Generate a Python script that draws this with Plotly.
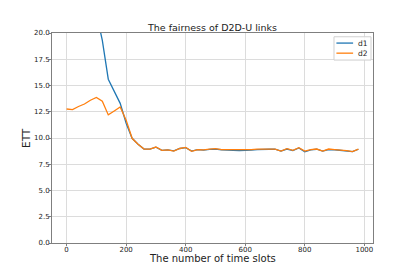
import plotly.graph_objects as go

time_slots = list(range(0, 1000, 20))

d1 = [35.0, 32.0, 29.5, 27.0, 24.5, 21.8, 19.3, 15.6, 14.4, 13.3, 11.4, 9.97, 9.4, 8.95, 8.95, 9.12,
      8.83, 8.86, 8.78, 9.0, 9.08, 8.75, 8.9, 8.84, 8.92, 8.95, 8.88, 8.88, 8.82, 8.8,
      8.8, 8.85, 8.9, 8.95, 8.93, 8.93, 8.76, 8.95, 8.8, 9.05, 8.68, 8.86, 8.93, 8.76,
      8.9, 8.88, 8.84, 8.78, 8.7, 8.93]

d2 = [12.76, 12.7, 13.0, 13.24, 13.6, 13.87, 13.5, 12.2, 12.57, 12.95, 11.7, 9.97, 9.4, 8.95, 8.95, 9.14,
      8.83, 8.86, 8.76, 9.0, 9.1, 8.73, 8.9, 8.86, 8.95, 8.98, 8.9, 8.9, 8.86, 8.86,
      8.83, 8.9, 8.95, 8.98, 8.95, 8.95, 8.76, 8.98, 8.83, 9.08, 8.76, 8.9, 8.95, 8.76,
      8.95, 8.9, 8.86, 8.8, 8.7, 8.95]

series_names = ["d1", "d2"]
series_colors = ["#1f77b4", "#ff7f0e"]

x_ticks = [0, 200, 400, 600, 800, 1000]
y_ticks = [0.0, 2.5, 5.0, 7.5, 10.0, 12.5, 15.0, 17.5, 20.0]

x_title = "The number of time slots"
y_title = "ETT"
chart_title = "The fairness of D2D-U links"

FONT = "DejaVu Sans"
TXT = "#222222"

fig = go.Figure()
for name, ys, col in zip(series_names, [d1, d2], series_colors):
    fig.add_trace(go.Scatter(x=time_slots, y=ys, mode="lines", name=name,
                             line=dict(color=col, width=1.3), showlegend=False))

axis_common = dict(
    showline=True, mirror=True, linecolor="#7f7f7f", linewidth=1,
    showgrid=True, gridcolor="#dcdcdc", gridwidth=1,
    ticks="outside", ticklen=2, tickcolor="#7f7f7f", tickwidth=1,
    zeroline=False, automargin=False, ticklabelstandoff=-2,
    tickfont=dict(family=FONT, size=7, color=TXT),
)

# compact matplotlib-style legend (box, line samples, labels) in plot-area coords
shapes = [dict(type="rect", xref="paper", yref="paper", x0=0.8785, x1=0.9938, y0=0.871, y1=0.982,
               line=dict(color="#d0d0d0", width=1), fillcolor="rgba(255,255,255,0.85)", layer="above")]
annotations = []
for i, (name, col) in enumerate(zip(series_names, series_colors)):
    yy = 0.952 - i * 0.048
    shapes.append(dict(type="line", xref="paper", yref="paper", x0=0.886, x1=0.938, y0=yy, y1=yy,
                       line=dict(color=col, width=1.3), layer="above"))
    annotations.append(dict(xref="paper", yref="paper", x=0.947, y=yy, text=name, showarrow=False,
                            xanchor="left", yanchor="middle",
                            font=dict(family=FONT, size=7.5, color=TXT)))

# axis titles placed like the matplotlib original
annotations.append(dict(xref="paper", yref="paper", x=0.5, y=-0.072, text=x_title, showarrow=False,
                        xanchor="center", yanchor="middle",
                        font=dict(family=FONT, size=10, color=TXT)))
annotations.append(dict(xref="paper", yref="paper", x=-0.081, y=0.5, text=y_title, showarrow=False,
                        textangle=-90, xanchor="center", yanchor="middle",
                        font=dict(family=FONT, size=10.5, color=TXT)))

fig.update_layout(
    width=415, height=273,
    margin=dict(l=52, r=42, t=33, b=30),
    paper_bgcolor="white", plot_bgcolor="white",
    font=dict(family=FONT, color=TXT),
    title=dict(text=chart_title, x=0.512, xanchor="center",
               y=0.9, yanchor="middle", font=dict(family=FONT, size=9.5, color=TXT)),
    xaxis=dict(range=[-49, 1029], tickvals=x_ticks, **axis_common),
    yaxis=dict(range=[0, 20], tickvals=y_ticks, tickformat=".1f", **axis_common),
    shapes=shapes,
    annotations=annotations,
    showlegend=False,
)

fig.write_html("out.html", config={"displayModeBar": False},
               post_script="document.body.style.margin='0';")
